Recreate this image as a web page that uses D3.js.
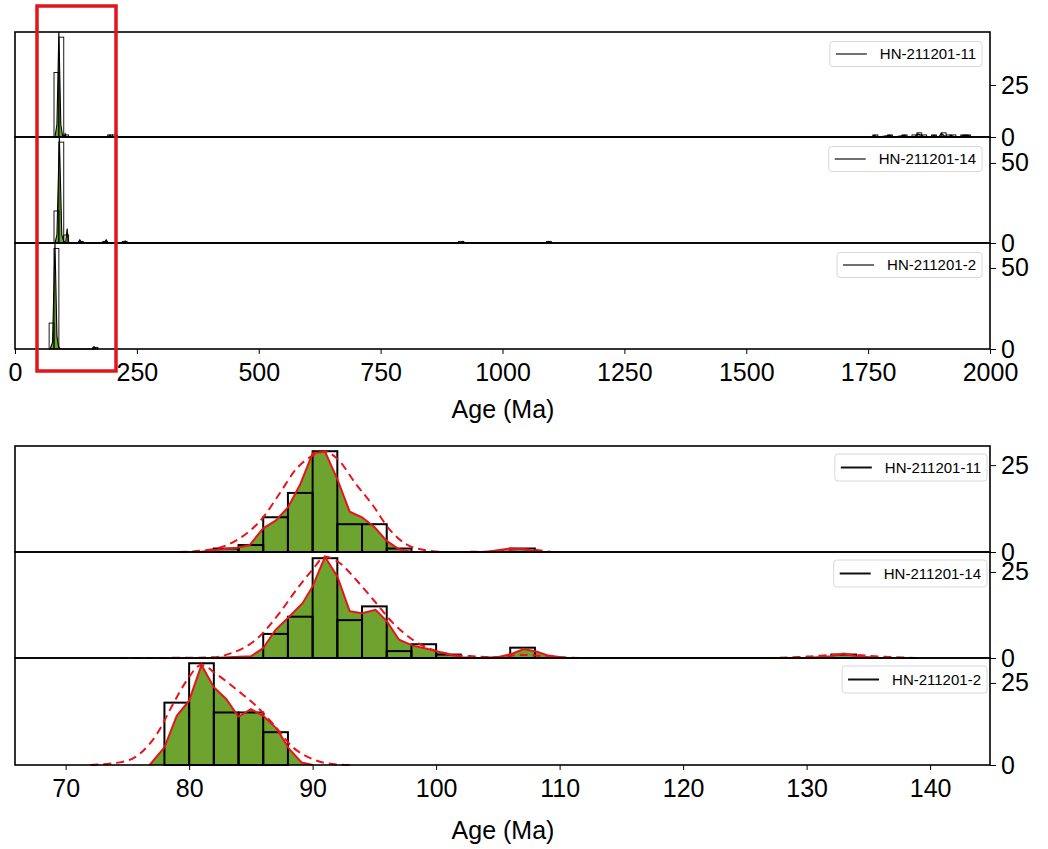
<!DOCTYPE html>
<html>
<head>
<meta charset="utf-8">
<script src="https://cdn.jsdelivr.net/npm/d3@7"></script>
<style>
  body { margin: 0; background: #fff; }
  svg { display: block; font-family: "Liberation Sans", Arial, sans-serif; }
</style>
</head>
<body>
<svg id="chart" width="1048" height="849"></svg>
<script>
// sample names
var samples = ["HN-211201-11", "HN-211201-14", "HN-211201-2"];

// full range histograms, 10 Ma bins (bin start / count)
var fullBins11 = [80, 90, 100, 190, 200, 1760, 1790, 1820, 1840, 1850, 1860, 1880, 1900, 1910, 1920, 1940, 1950];
var fullCounts11 = [31, 48, 1, 1, 1, 1, 1, 1, 1, 2, 1, 1, 2, 1, 1, 1, 1];
var fullBins14 = [80, 90, 100, 130, 180, 220, 910, 1090];
var fullCounts14 = [20, 63, 5, 1, 1, 1, 1, 1];
var fullBins2 = [70, 80, 160];
var fullCounts2 = [16, 62, 1];

// full range density curves (age, height in count units)
var fullKde11 = [[82, 0], [86, 6], [90, 50.5], [94, 6], [98, 0], [101, 0], [103, 1.5], [105, 0],
  [190, 0], [195, 1], [199, 0], [203, 0], [207, 1], [211, 0],
  [1755, 0], [1763, 0.8], [1770, 0], [1795, 0.8], [1802, 0], [1825, 0.8], [1832, 0], [1845, 0],
  [1852, 1.5], [1858, 1], [1866, 0], [1878, 0], [1885, 0.8], [1895, 0], [1900, 1.8], [1906, 0.6],
  [1912, 0], [1920, 0.8], [1928, 0], [1938, 0], [1945, 0.8], [1955, 0.8], [1962, 0]];
var fullKde14 = [[82, 0], [86, 5], [91, 66], [96, 5], [100, 1], [104, 0.5], [107, 9], [109, 1], [112, 0],
  [129, 0], [133, 2], [137, 0], [183, 0], [187, 2], [191, 0], [222, 0], [226, 1.2], [230, 0],
  [914, 0], [919, 1], [924, 0], [1090, 0], [1095, 1], [1100, 0]];
var fullKde2 = [[72, 0], [77, 4], [82, 65.3], [86, 8], [89, 2], [92, 0], [158, 0], [162, 1.5], [166, 0]];

// zoomed histograms, 2 Ma bins
var zoomBins11 = [82, 84, 86, 88, 90, 92, 94, 96, 106];
var zoomCounts11 = [1, 2, 10, 17, 29, 8, 8, 1, 1];
var zoomBins14 = [86, 88, 90, 92, 94, 96, 98, 100, 106, 132];
var zoomCounts14 = [7, 12, 29, 11, 15, 2, 4, 1, 3, 1];
var zoomBins2 = [78, 80, 82, 84, 86];
var zoomCounts2 = [19, 31, 16, 16, 10];

// solid (filled) curves
var pdp11 = [[80.9, 0], [81.9, 0.5], [83.9, 1.2], [84.9, 2], [86, 6.8], [87, 9], [88, 12.8], [89, 19.5],
  [90, 28.4], [91, 28.9], [92, 21], [93, 11.6], [94, 10], [95, 7.2], [96, 3.2], [97, 0.8], [98.1, 0],
  [104, 0], [106, 1], [107.1, 0.8], [108.3, 0], [110, 0]];
var pdp14 = [[81.9, 0], [85, 0.5], [86, 2.9], [87, 8.2], [88.1, 12], [89.2, 16], [90, 20.8], [91, 29.4],
  [92, 23.7], [93, 13.6], [94, 13], [95.1, 14], [96, 10.7], [97, 5.3], [98.1, 3.6], [99, 2.9],
  [100.1, 1.9], [101.1, 1], [102.1, 0.2], [103.5, 0], [105.1, 0.3], [106.2, 1.3], [107.1, 2.6],
  [108.1, 1.9], [109.1, 0.7], [110.5, 0], [130, 0], [132, 0.5], [133, 1.3], [134, 0.5], [136, 0]];
var pdp2 = [[76.8, 0], [78, 5.4], [79, 15], [80, 19.6], [81, 30.5], [82, 23.7], [83, 20.1], [84, 14.7],
  [85, 17], [86, 15], [87.1, 11], [88.1, 4.9], [89.1, 0.8], [90, 0]];

// dashed curves
var kde11 = [[79.2, 0], [81.9, 0.8], [83.9, 3.5], [86, 10], [87.3, 16.7], [88.7, 24], [90, 27.7],
  [91, 28.9], [92, 26.8], [93.5, 19.6], [94.9, 13.3], [96.2, 6.6], [97.6, 2.2], [99.2, 0.5],
  [100.8, 0], [104, 0.1], [107, 0.8], [109.4, 0]];
var kde14 = [[74.4, 0], [79.2, 0.05], [81.9, 0.2], [83.5, 1.5], [85.4, 5.3], [87.3, 13], [88.7, 19.9],
  [90, 25.7], [91, 29.4], [92.2, 27.6], [93.5, 22.8], [94.9, 17], [96.5, 10.2], [98.1, 5.3],
  [99.7, 2.4], [101.3, 1], [103, 0.5], [104.8, 0.3], [107, 0.9], [108.9, 0.5], [111.6, 0], [113, 0],
  [127, 0], [130, 0.4], [133, 1], [136, 0.4], [139, 0]];
var kde2 = [[72, 0], [74.4, 0.8], [76, 3.4], [77.4, 9.5], [78.7, 18.6], [79.8, 25.7], [81, 30.5],
  [82.2, 27.7], [84.1, 22.2], [85.4, 18.1], [86.8, 12.5], [88.4, 5.4], [90, 1.8], [91.6, 0.3], [93.2, 0]];

var green = "#6fa32f", red = "#e8141c";

var svg = d3.select("#chart");

var topX = d3.scaleLinear().domain([0, 2000]).range([15, 990]);
var botX = d3.scaleLinear().domain([65.9, 144.85]).range([15, 990]);

var topPanels = [
  {name: samples[0], y0: 32, y1: 137, ymax: 50.5, ticks: [0, 25], bins: fullBins11, counts: fullCounts11, kde: fullKde11},
  {name: samples[1], y0: 137, y1: 243, ymax: 66.2, ticks: [0, 50], bins: fullBins14, counts: fullCounts14, kde: fullKde14},
  {name: samples[2], y0: 243, y1: 349, ymax: 65.4, ticks: [0, 50], bins: fullBins2, counts: fullCounts2, kde: fullKde2}
];
var botPanels = [
  {name: samples[0], y0: 446, y1: 552, ymax: 30.5, ticks: [0, 25], bins: zoomBins11, counts: zoomCounts11, pdp: pdp11, kde: kde11},
  {name: samples[1], y0: 552, y1: 658, ymax: 30.8, ticks: [0, 25], bins: zoomBins14, counts: zoomCounts14, pdp: pdp14, kde: kde14},
  {name: samples[2], y0: 658, y1: 765, ymax: 32.6, ticks: [0, 25], bins: zoomBins2, counts: zoomCounts2, pdp: pdp2, kde: kde2}
];

function rightAxis(p, y) {
  var ax = svg.append("g")
      .attr("transform", "translate(990,0)")
      .call(d3.axisRight(y).tickValues(p.ticks).tickSize(6).tickPadding(5).tickFormat(d3.format("d")));
  ax.select(".domain").remove();
  ax.selectAll("line").attr("stroke", "#000");
  ax.selectAll("text").attr("font-size", 25).attr("fill", "#000");
}

function legend(p, right, top, h, lineW) {
  var lg = svg.append("g");
  var box = lg.append("rect");
  var txt = lg.append("text").text(p.name)
      .attr("font-size", 15).attr("fill", "#000")
      .attr("y", top + h / 2).attr("dy", "0.35em");
  var tw = txt.node().getComputedTextLength();
  var x0 = right - 6 - tw - 13 - 31 - 6;
  box.attr("x", x0).attr("y", top).attr("width", right - x0).attr("height", h)
      .attr("rx", 3).attr("fill", "#fff").attr("fill-opacity", 0.85)
      .attr("stroke", "#d8d8d8").attr("stroke-width", 1);
  lg.append("line").attr("x1", x0 + 6).attr("x2", x0 + 37)
      .attr("y1", top + h / 2).attr("y2", top + h / 2)
      .attr("stroke", "#111").attr("stroke-width", lineW);
  txt.attr("x", x0 + 50);
}

function frame(p) {
  svg.append("rect").attr("x", 15).attr("y", p.y0).attr("width", 975).attr("height", p.y1 - p.y0)
      .attr("fill", "none").attr("stroke", "#000").attr("stroke-width", 1.6);
}

// top figure: full age range
topPanels.forEach(function(p) {
  var y = d3.scaleLinear().domain([0, p.ymax]).range([p.y1, p.y0]);
  var g = svg.append("g");
  g.append("path").datum(p.kde)
      .attr("d", d3.area().x(function(d) { return topX(d[0]); }).y0(y(0)).y1(function(d) { return y(d[1]); }))
      .attr("fill", green);
  g.selectAll("rect").data(p.bins).enter().append("rect")
      .attr("x", function(d) { return topX(d); })
      .attr("width", function(d) { return topX(d + 10) - topX(d); })
      .attr("y", function(d, i) { return y(p.counts[i]); })
      .attr("height", function(d, i) { return y(0) - y(p.counts[i]); })
      .attr("fill", "none").attr("stroke", "#000").attr("stroke-width", 0.9);
  g.append("path").datum(p.kde)
      .attr("d", d3.line().x(function(d) { return topX(d[0]); }).y(function(d) { return y(d[1]); }))
      .attr("fill", "none").attr("stroke", "#000").attr("stroke-width", 1.1);
  frame(p);
  rightAxis(p, y);
  legend(p, 982, p.y0 + 9.5, 25, 1.2);
});

var topAxis = svg.append("g").attr("transform", "translate(0,349)")
    .call(d3.axisBottom(topX).tickValues(d3.range(0, 2001, 250)).tickSize(5).tickPadding(9)
      .tickFormat(d3.format("d")));
topAxis.select(".domain").remove();
topAxis.selectAll("text").attr("font-size", 25).attr("fill", "#000");
svg.append("text").attr("x", 503).attr("y", 418).attr("text-anchor", "middle")
    .attr("font-size", 25).text("Age (Ma)");

// bottom figure: zoom on the young population
botPanels.forEach(function(p) {
  var y = d3.scaleLinear().domain([0, p.ymax]).range([p.y1, p.y0]);
  var g = svg.append("g");
  var cx = function(d) { return botX(d[0]); }, cy = function(d) { return y(d[1]); };
  g.append("path").datum(p.pdp)
      .attr("d", d3.area().x(cx).y0(y(0)).y1(cy))
      .attr("fill", green);
  g.selectAll("rect").data(p.bins).enter().append("rect")
      .attr("x", function(d) { return botX(d); })
      .attr("width", function(d) { return botX(d + 2) - botX(d); })
      .attr("y", function(d, i) { return y(p.counts[i]); })
      .attr("height", function(d, i) { return y(0) - y(p.counts[i]); })
      .attr("fill", "none").attr("stroke", "#000").attr("stroke-width", 2);
  g.append("path").datum(p.pdp)
      .attr("d", d3.line().x(cx).y(cy))
      .attr("fill", "none").attr("stroke", red).attr("stroke-width", 2);
  g.append("path").datum(p.kde)
      .attr("d", d3.line().x(cx).y(cy).curve(d3.curveMonotoneX))
      .attr("fill", "none").attr("stroke", red).attr("stroke-width", 2)
      .attr("stroke-dasharray", "8,5");
  frame(p);
  rightAxis(p, y);
  legend(p, 987, p.y0 + 8, 27, 2);
});

var botAxis = svg.append("g").attr("transform", "translate(0,765)")
    .call(d3.axisBottom(botX).tickValues(d3.range(70, 141, 10)).tickSize(5).tickPadding(9));
botAxis.select(".domain").remove();
botAxis.selectAll("text").attr("font-size", 25).attr("fill", "#000");
svg.append("text").attr("x", 503).attr("y", 839).attr("text-anchor", "middle")
    .attr("font-size", 25).text("Age (Ma)");

// highlight box over the young ages
svg.append("rect").attr("x", 37).attr("y", 6).attr("width", 79).attr("height", 365)
    .attr("fill", "none").attr("stroke", "#e0161e").attr("stroke-width", 3.5);
</script>
</body>
</html>
